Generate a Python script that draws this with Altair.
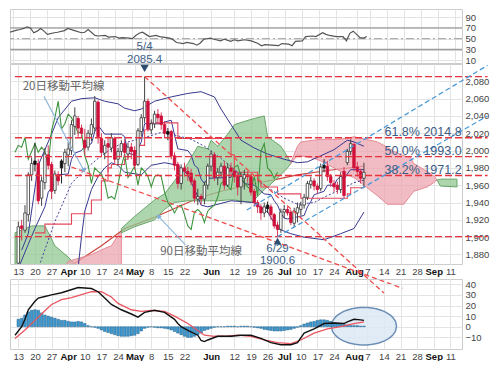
import json
import altair as alt
import numpy as np
import pandas as pd

# ---------------- calendar: weekday index, 0 = Mon 13 Mar ----------------
tick_idx = [0, 5, 10, 15, 20, 25, 30, 35, 40, 45, 50, 58, 65, 70, 75, 80, 85, 90, 95, 101, 105, 110, 115, 120, 125, 130]
tick_lab = ["13", "20", "27", "Apr", "10", "17", "24", "May", "8", "15", "22", "Jun", "12", "19", "26",
            "Jul", "10", "17", "24", "Aug", "7", "14", "21", "28", "Sep", "11"]
month_idx = [15, 35, 58, 80, 101, 125]

# ---------------- daily candles (idx 0..104) ----------------
opens = [1870, 1913, 1908, 1926, 1972, 1984, 1985, 1945, 1963, 1995,
         1984, 1954, 1972, 1980, 1985, 1995, 2000, 2028, 2037, 2026,
         2012, 2004, 2019, 2026, 2056, 2014, 1997, 2008, 2003, 2014,
         1990, 1999, 2008, 1996, 2004, 2000, 1984, 2022, 2038, 2057,
         2024, 2031, 2042, 2040, 2030, 2019, 2022, 1994, 1984, 1962,
         1980, 1976, 1974, 1965, 1944, 1947, 1944, 1960, 1982, 1995,
         1969, 1975, 1982, 1960, 1980, 1976, 1970, 1958, 1968, 1972,
         1970, 1953, 1940, 1935, 1928, 1933, 1935, 1926, 1914, 1909,
         1929, 1932, 1929, 1916, 1928, 1932, 1937, 1946, 1961, 1965,
         1959, 1956, 1980, 1982, 1970, 1962, 1960, 1955, 1976, 1986,
         1999, 2007, 1981, 1976, 1968]
highs = [1918, 1920, 1937, 1975, 1992, 2009, 1990, 1970, 2003, 2006,
         1987, 1977, 1976, 1990, 2002, 2010, 2035, 2050, 2040, 2030,
         2025, 2024, 2037, 2063, 2058, 2020, 2012, 2016, 2020, 2016,
         2003, 2012, 2013, 2009, 2009, 2005, 2026, 2042, 2085.4, 2060,
         2036, 2046, 2048, 2044, 2034, 2026, 2024, 1998, 1987, 1984,
         1986, 1981, 1979, 1968, 1956, 1950, 1964, 1985, 2000, 1998,
         1980, 1986, 1988, 1985, 1986, 1980, 1974, 1975, 1978, 1976,
         1973, 1956, 1943, 1938, 1940, 1941, 1938, 1928, 1918, 1933,
         1937, 1935, 1932, 1934, 1940, 1941, 1950, 1965, 1970, 1968,
         1962, 1985, 1990, 1988, 1973, 1966, 1964, 1975, 1981, 2002,
         2013, 2009, 1987, 1979, 1986]
lows = [1866, 1896, 1905, 1918, 1965, 1976, 1938, 1936, 1955, 1978,
        1944, 1950, 1960, 1962, 1975, 1982, 1995, 2018, 2016, 2015,
        1995, 2000, 2011, 2022, 2008, 1993, 1990, 1975, 1998, 1985,
        1983, 1994, 1992, 1991, 1990, 1978, 1982, 2016, 2032, 2022,
        2019, 2026, 2030, 2024, 2014, 2012, 1990, 1977, 1956, 1955,
        1970, 1965, 1960, 1940, 1937, 1938, 1938, 1955, 1976, 1965,
        1960, 1970, 1955, 1958, 1970, 1963, 1948, 1938, 1955, 1963,
        1948, 1935, 1928, 1920, 1923, 1928, 1920, 1910, 1900.6, 1905,
        1922, 1925, 1914, 1912, 1917, 1925, 1933, 1943, 1956, 1954,
        1950, 1953, 1975, 1965, 1958, 1952, 1950, 1951, 1944, 1983,
        1995, 1976, 1970, 1962, 1957]
closes = [1912, 1910, 1928, 1972, 1985, 1988, 1942, 1965, 1996, 1983,
          1953, 1973, 1965, 1988, 1998, 2002, 2030, 2040, 2026, 2020,
          2003, 2020, 2030, 2057, 2016, 1998, 2006, 2004, 2015, 1990,
          1999, 2008, 1998, 2004, 1999, 1983, 2023, 2038, 2057, 2025,
          2031, 2042, 2038, 2030, 2020, 2022, 1994, 1983, 1962, 1980,
          1976, 1973, 1964, 1945, 1947, 1944, 1960, 1982, 1996, 1969,
          1975, 1982, 1960, 1980, 1976, 1970, 1958, 1970, 1972, 1970,
          1952, 1940, 1935, 1928, 1935, 1937, 1926, 1913, 1909, 1929,
          1932, 1928, 1917, 1930, 1934, 1937, 1946, 1962, 1965, 1959,
          1955, 1981, 1983, 1970, 1963, 1958, 1955, 1970, 1948, 1999,
          2008, 1980, 1976, 1968, 1975]
black_days = [5, 13, 45, 75, 92]

# ---------------- indicator lines (idx, value) ----------------
bb_up_i = [1, 3, 6, 10, 12, 16, 19, 23, 26, 30, 32, 35, 37, 41, 46, 51, 55, 59, 61, 64, 67, 71, 75, 80, 84, 87, 91, 95, 99, 101, 104]
bb_up_v = [1885, 1904, 1983, 2019, 2038, 2057, 2060, 2061, 2057, 2054, 2049, 2046, 2048, 2057, 2062, 2066, 2068, 2062,
           2048, 2030, 2012, 2003, 1996, 1990, 1986, 1987, 1994, 2001, 2012, 2010, 2005]
bb_lo_i = [17, 18, 19, 20, 22, 24, 26, 28, 30, 32, 37, 40, 44, 48, 51, 54, 55, 57, 64, 71, 75, 78, 82, 86, 92, 97, 101, 104]
bb_lo_v = [1840, 1865, 1900, 1930, 1955, 1970, 1980, 1986, 1983, 1975, 1972, 1983, 1986, 1983, 1972, 1947, 1937, 1935,
           1942, 1940, 1929, 1910, 1904, 1900, 1897, 1904, 1910, 1929]
ma20_i = [4, 6, 11, 16, 20, 24, 28, 31, 38, 43, 47, 52, 56, 61, 66, 72, 76, 80, 84, 89, 93, 97, 101, 104]
ma20_v = [1850, 1864, 1918, 1962, 1978, 1991, 2002, 2008, 2015, 2021, 2018, 2013, 2005, 1991, 1975, 1965, 1955, 1945,
          1938, 1940, 1948, 1955, 1963, 1966]
ten_i = [0, 3, 5, 8, 9, 10, 11, 12, 15, 16, 17, 19, 20, 22, 23, 24, 26, 31, 32, 33, 35, 36, 37, 38, 43, 44, 46, 47, 48, 51,
         52, 53, 54, 55, 56, 57, 64, 65, 66, 67, 68, 71, 72, 73, 74, 76, 77, 78, 79, 80, 81, 86, 87, 88, 89, 92, 93, 95, 96,
         97, 98, 99, 100, 104]
ten_v = [1864, 1892, 1910, 1935, 1952, 1957, 1963, 1972, 1973, 1990, 1997, 2000, 2005, 2008, 2022, 2029, 2019, 2019, 2016,
         1997, 1995, 2002, 2010, 2031, 2031, 2033, 2035, 2018, 2002, 2000, 1995, 1983, 1980, 1967, 1962, 1968, 1969, 1977,
         1975, 1967, 1962, 1960, 1957, 1953, 1950, 1949, 1942, 1937, 1928, 1922, 1921, 1925, 1935, 1941, 1949, 1953, 1960,
         1960, 1967, 1970, 1967, 1973, 1978, 1978]
kij_i = [5, 8, 16, 22, 25, 27, 28, 32, 33, 36, 38, 40, 48, 64, 65, 72, 73, 78, 85, 99, 100, 104]
kij_v = [1905, 1915, 1927, 1943, 1965, 1980, 1984, 1990, 2000, 2006, 2024, 2032, 2014, 1995, 1975, 1965, 1958, 1950, 1945,
         1950, 1957, 1957]
ma90_i = [14, 17, 25, 32, 41, 54, 61, 71, 78, 84, 93, 104]
ma90_v = [1864, 1870, 1890, 1910, 1923, 1945, 1953, 1962, 1967, 1972, 1977, 1982]

# ---------------- ichimoku cloud segments (idx, lower, upper) ----------------
g1_i = [-1, 4, 8, 11, 15, 17]
g1_lo = [1860, 1860, 1860, 1860, 1860, 1869]
g1_hi = [1905, 1913, 1913, 1890, 1877, 1869]
p1_i = [14, 15, 22, 26, 28, 30, 31]
p1_lo = [1860, 1860, 1860, 1860, 1860, 1860, 1860]
p1_hi = [1866, 1872, 1880, 1887, 1890, 1902, 1906]
g2_i = [31, 35, 41, 44, 45, 47, 51, 54, 57, 58, 60, 63, 65, 70, 71, 74, 75, 79, 81, 82]
g2_lo = [1905, 1912, 1920, 1932, 1935, 1940, 1942, 1942, 1942, 1942, 1942, 1943, 1943, 1940, 1943, 1955, 1958, 1972, 1980, 1985]
g2_hi = [1910, 1924, 1943, 1950, 1955, 1965, 1985, 2005, 2002, 2012, 2005, 2019, 2030, 2036, 2037, 2040, 2016, 2005, 1993, 1986]
p2_i = [82, 84, 85, 89, 91, 96, 99, 101, 107, 108, 111, 113, 116, 118, 119, 123, 125, 126]
p2_lo = [1985, 1995, 1994, 1991, 1988, 1978, 1972, 1969, 1951, 1948, 1938, 1938, 1938, 1948, 1953, 1958, 1963, 1966]
p2_hi = [1986, 2005, 2010, 2012, 2013, 2013, 2014, 2016, 2011, 2010, 2004, 1999, 1994, 1992, 1985, 1976, 1971, 1966]
g3_i = [126, 127, 132]
g3_lo = [1966, 1959, 1958]
g3_hi = [1966, 1967, 1967]

# ---------------- fibonacci / trend lines ----------------
fib_levels = [2085.4, 2014.8, 1993.0, 1971.2, 1900.6]
fib_texts = ["61.8% 2014.8", "50.0% 1993.0", "38.2% 1971.2"]
fib_text_levels = [2014.8, 1993.0, 1971.2]
red_tl_name = ["L1", "L1", "L2", "L2"]
red_tl_i = [38, 110, 16, 115.6]
red_tl_v = [2085.4, 1835.5, 1981, 1841]
blue_tl_name = ["B1", "B1", "B2", "B2"]
blue_tl_i = [68.75, 141.2, 78, 141.2]
blue_tl_v = [1931.3, 2098.5, 1900.6, 2040]

# ---------------- RSI ----------------
rsi_i = [-1, 1, 2, 3, 4, 5, 6, 7, 8, 9, 10, 12, 13, 15, 16, 18, 20, 21, 22, 24, 25, 27, 28, 30, 31, 32, 34, 35, 36, 37, 38,
         39, 40, 42, 43, 45, 46, 47, 48, 50, 51, 53, 54, 55, 56, 58, 59, 61, 62, 64, 65, 66, 68, 70, 72, 73, 74, 76, 78, 79,
         81, 82, 83, 85, 86, 88, 89, 91, 92, 93, 95, 97, 98, 99, 100, 101, 102, 103, 104]
rsi_v = [62, 66, 67, 69, 72, 70, 61, 64, 69, 64, 58, 61, 62, 65, 69, 65, 61, 62, 67, 56, 55, 56, 53, 54, 51, 52, 51, 50, 56,
         60, 62, 58, 54, 56, 54, 52, 51, 48, 43, 41, 43, 41, 38, 42, 49, 51, 49, 46, 49, 45, 48, 46, 48, 46, 41, 37, 39, 38,
         37, 41, 40, 37, 45, 46, 54, 55, 54, 61, 58, 56, 54, 54, 46, 60, 64, 58, 52, 51, 54]

# ---------------- MACD ----------------
macd_i = [-1, 1, 2, 3, 5, 6, 8, 10, 13, 18, 22, 24, 26, 28, 31, 34, 36, 38, 41, 44, 47, 48, 49, 51, 54, 55, 56, 57, 60, 64,
          67, 70, 73, 76, 79, 82, 84, 86, 89, 92, 95, 98, 99, 101, 103, 104]
macd_v = [-8, 0, 7, 16, 24, 27, 28.5, 30, 32, 37, 36, 33, 27, 21, 16, 12, 9, 13.5, 15.5, 13.5, 7, 3, 0, -3.5, -8, -13, -14,
          -12.5, -9, -9, -8, -8, -11, -15, -17, -17, -15, -6, -2, 3, 3.5, 3, 4.5, 7, 6.5, 6]
sig_i = [-1, 2, 5, 8, 10, 13, 16, 22, 25, 28, 30, 34, 37, 40, 44, 47, 51, 54, 56, 59, 62, 66, 70, 74, 78, 82, 85, 89, 93, 97,
         101, 104]
sig_v = [-11, -3, 6, 15, 21, 25.5, 27.5, 33, 33, 28, 22, 16, 14.5, 15.5, 14.5, 10, 3, -3.5, -8, -9, -9, -8, -9, -12.5, -15,
         -16, -12.5, -6, -2, 0, 3, 4.5]
hist = [7, 8, 11, 14, 15.5, 16, 15.5, 13, 11, 10,
        9, 8, 7, 6, 6, 5, 4.5, 4.5, 5, 4.5,
        3, 1, 0, -0.5, -1.5, -3, -4.5, -5.5, -6.5, -7.5,
        -8.5, -9, -9, -9, -8.5, -8, -6.5, -4, -1.5, -0.5,
        0, -0.5, -1, -1, -1.5, -2, -3, -4.5, -6, -7.5,
        -9, -10, -10, -9, -7.5, -6, -3.5, -2.5, -1.5, -0.5,
        0, 0, 0, 0.5, 0.5, 0.5, 0, 0.5, 0.5, 0.5,
        0, -0.5, -1, -1.5, -2.5, -3, -3.5, -4, -4, -4,
        -3.5, -3, -2.5, -1.5, -0.5, 1, 2.5, 3.5, 4.5, 5,
        6, 6.5, 6.5, 6, 5, 4, 3.5, 2.5, 2, 1.5,
        1, 1, 1, 0.5, 0.5]
ell_cx, ell_cy, ell_rx, ell_ry = 104.0, 0.5, 9.8, 17.7

# =====================================================================
W = 452
XS = alt.Scale(domain=[-1, 132], nice=False, zero=False)
lab_expr = f"{json.dumps(tick_lab)}[indexof({json.dumps(tick_idx)}, datum.value)]"
month_test = f"indexof({json.dumps(month_idx)}, datum.value) >= 0"
xax_lab = alt.Axis(values=tick_idx, labelExpr=lab_expr,
                   labelFontWeight={"condition": {"test": month_test, "value": "bold"}, "value": "normal"},
                   labelColor={"condition": {"test": month_test, "value": "#111111"}, "value": "#444444"},
                   grid=True, gridColor="#e3e3e3", ticks=False, domain=False, labelFontSize=9.5,
                   labelPadding=2, labelOverlap=False, title=None)
xax_nolab = alt.Axis(values=tick_idx, labels=False, grid=True, gridColor="#e3e3e3", ticks=False,
                     domain=False, title=None)


def yaxis(vals):
    return alt.Axis(orient="right", values=vals, grid=True, gridColor="#e3e3e3", ticks=False, domain=False,
                    labelFontSize=9.5, labelColor="#444444", labelPadding=3, title=None)


# ---------------- main panel ----------------
YS = alt.Scale(domain=[1869, 2100], nice=False, zero=False)
yax_main = yaxis(list(range(1880, 2081, 20)))
XM = alt.X("i:Q", scale=XS, axis=xax_lab)


def YM(f):
    return alt.Y(f"{f}:Q", scale=YS, axis=yax_main)


def line_df(i, v):
    return pd.DataFrame({"i": i, "v": v})


def cloud(i, lo, hi, fill, stroke):
    df = pd.DataFrame({"i": i, "lo": lo, "hi": hi})
    return alt.Chart(df).mark_area(fill=fill, stroke=stroke, strokeWidth=1, fillOpacity=0.75, clip=True).encode(
        x=XM, y=YM("lo"), y2="hi")


def mline(i, v, color, width=1.0, dash=None, interp="linear", clip=True):
    kw = dict(color=color, strokeWidth=width, interpolate=interp, clip=clip)
    if dash:
        kw["strokeDash"] = dash
    return alt.Chart(line_df(i, v)).mark_line(**kw).encode(x=XM, y=YM("v"))


cd = pd.DataFrame({"i": range(len(closes)), "o": opens, "h": highs, "l": lows, "c": closes})
cd["kind"] = np.where(cd["c"] >= cd["o"], "up", "down")
cd.loc[cd["i"].isin(black_days), "kind"] = "black"
kinds = ["up", "down", "black"]

chik = pd.DataFrame({"i": np.arange(len(closes)) - 26, "v": closes})
chik = chik[chik["i"] >= -1]

fib_df = pd.DataFrame({"i": [-1] * len(fib_levels), "i1": [141.2] * len(fib_levels), "v": fib_levels})
fib_lab = pd.DataFrame({"i": [133.4] * 3, "v": fib_text_levels, "t": fib_texts})
red_tl = pd.DataFrame({"n": red_tl_name, "i": red_tl_i, "v": red_tl_v})
blue_tl = pd.DataFrame({"n": blue_tl_name, "i": blue_tl_i, "v": blue_tl_v})

arrows = pd.DataFrame({"n": ["a20", "a20", "a90", "a90"], "i": [7.7, 19.6, 50.3, 42.3],
                       "v": [2062.6, 1977.8, 1891, 1923.5]})
ja_text = pd.DataFrame({"i": [13.6, 55.0], "v": [2073.5, 1883], "t": ["20日移動平均線", "90日移動平均線"]})
blue_text = pd.DataFrame({"i": [38, 38, 78, 78], "v": [2119.5, 2105, 1886.5, 1873],
                          "t": ["5/4", "2085.4", "6/29", "1900.6"]})

layers = [
    mline(ma90_i, ma90_v, "#c8453c", 1.2),
    cloud(g1_i, g1_lo, g1_hi, "#93c893", "#6aa56a"),
    cloud(p1_i, p1_lo, p1_hi, "#eda6b0", "#e58a98"),
    cloud(g2_i, g2_lo, g2_hi, "#93c893", "#6aa56a"),
    cloud(p2_i, p2_lo, p2_hi, "#eda6b0", "#e58a98"),
    cloud(g3_i, g3_lo, g3_hi, "#93c893", "#6aa56a"),
    mline(bb_up_i, bb_up_v, "#38388f", 1.0),
    mline(bb_lo_i, bb_lo_v, "#38388f", 1.0),
    mline(ma20_i, ma20_v, "#3f3f9c", 1.0, dash=[2, 2]),
    mline(ten_i, ten_v, "#3a3a95", 1.0),
    mline(kij_i, kij_v, "#e4485c", 1.1, interp="step-after"),
    alt.Chart(chik).mark_line(color="#3f943f", strokeWidth=1.1, clip=True).encode(x=XM, y=YM("v")),
    alt.Chart(cd).mark_rule(strokeWidth=1, clip=True).encode(
        x=XM, y=YM("l"), y2="h",
        color=alt.Color("kind:N", scale=alt.Scale(domain=kinds, range=["#444444", "#d63a5c", "#222222"]), legend=None)),
    alt.Chart(cd).mark_bar(width=2.5, strokeWidth=0.8, clip=True).encode(
        x=XM, y=YM("o"), y2="c",
        fill=alt.Fill("kind:N", scale=alt.Scale(domain=kinds, range=["#ffffff", "#d0103a", "#111111"]), legend=None),
        stroke=alt.Stroke("kind:N", scale=alt.Scale(domain=kinds, range=["#333333", "#d0103a", "#111111"]),
                          legend=None)),
    alt.Chart(fib_df).mark_rule(color="#e8333f", strokeWidth=1.4, strokeDash=[7, 3]).encode(
        x=XM, x2="i1:Q", y=YM("v")),
    alt.Chart(red_tl).mark_line(color="#ee4b4b", strokeWidth=1.3, strokeDash=[5, 3]).encode(
        x=XM, y=YM("v"), detail="n:N"),
    alt.Chart(blue_tl).mark_line(color="#4a9ad8", strokeWidth=1.3, strokeDash=[5, 3]).encode(
        x=XM, y=YM("v"), detail="n:N"),
    alt.Chart(arrows).mark_line(color="#8fb6dc", strokeWidth=1.1).encode(x=XM, y=YM("v"), detail="n:N"),
    alt.Chart(pd.DataFrame({"i": [19.6], "v": [1977.8]})).mark_point(
        shape="triangle", angle=151, size=28, filled=True, color="#7fb0de", opacity=1).encode(x=XM, y=YM("v")),
    alt.Chart(pd.DataFrame({"i": [42.3], "v": [1923.5]})).mark_point(
        shape="triangle", angle=316, size=28, filled=True, color="#7fb0de", opacity=1).encode(x=XM, y=YM("v")),
    alt.Chart(pd.DataFrame({"i": [38], "v": [2095]})).mark_point(
        shape="triangle-down", size=70, filled=True, color="#2b4d70", opacity=1).encode(x=XM, y=YM("v")),
    alt.Chart(pd.DataFrame({"i": [78], "v": [1895.5]})).mark_point(
        shape="triangle-up", size=60, filled=True, color="#2b4d70", opacity=1).encode(x=XM, y=YM("v")),
    alt.Chart(ja_text).mark_text(font="Noto Sans CJK JP", fontSize=11.5, color="#666666").encode(
        x=XM, y=YM("v"), text="t:N"),
    alt.Chart(blue_text).mark_text(font="Liberation Sans", fontSize=11.5, color="#3d6088").encode(
        x=XM, y=YM("v"), text="t:N"),
    alt.Chart(fib_lab).mark_text(font="Liberation Sans", fontSize=12.5, color="#3b5b85", align="right",
                                 baseline="alphabetic", dy=-2).encode(x=XM, y=YM("v"), text="t:N"),
]
main = alt.layer(*layers).properties(width=W, height=200)

# ---------------- RSI panel ----------------
RS = alt.Scale(domain=[5, 105], nice=False, zero=False)
XR = alt.X("i:Q", scale=XS, axis=xax_nolab)
yax_rsi = yaxis([10, 30, 50, 70, 90])
rsi_df = pd.DataFrame({"i": rsi_i, "v": rsi_v})
rsi = alt.layer(
    alt.Chart(pd.DataFrame({"v": [70, 30]})).mark_rule(color="#9c9c9c", strokeWidth=1.3).encode(
        y=alt.Y("v:Q", scale=RS, axis=yax_rsi)),
    alt.Chart(pd.DataFrame({"v": [50]})).mark_rule(color="#9c9c9c", strokeWidth=1, strokeDash=[8, 3, 2, 3]).encode(
        y=alt.Y("v:Q", scale=RS, axis=yax_rsi)),
    alt.Chart(rsi_df).mark_line(color="#555555", strokeWidth=1.2, clip=True).encode(
        x=XR, y=alt.Y("v:Q", scale=RS, axis=yax_rsi)),
).properties(width=W, height=54)

# ---------------- MACD panel ----------------
MS = alt.Scale(domain=[-21, 45], nice=False, zero=False)
yax_macd = yaxis([-10, 0, 10, 20, 30, 40])
XD = alt.X("i:Q", scale=XS, axis=xax_lab)
t = np.linspace(-1, 1, 81)
ell = pd.DataFrame({"i": ell_cx + ell_rx * t,
                    "lo": ell_cy - ell_ry * np.sqrt(1 - t ** 2),
                    "hi": ell_cy + ell_ry * np.sqrt(1 - t ** 2)})
hist_df = pd.DataFrame({"i": range(len(hist)), "v": hist})
macd = alt.layer(
    alt.Chart(ell).mark_area(fill="#dde9f6", fillOpacity=0.85, stroke="#6b8fb5", strokeWidth=1.5).encode(
        x=XD, y=alt.Y("lo:Q", scale=MS, axis=yax_macd), y2="hi"),
    alt.Chart(hist_df).mark_bar(width=2.6, fill="#3d9ad1", stroke="#1f5f8a", strokeWidth=0.5).encode(
        x=XD, y=alt.Y("v:Q", scale=MS, axis=yax_macd)),
    alt.Chart(pd.DataFrame({"i": sig_i, "v": sig_v})).mark_line(color="#ea5560", strokeWidth=1.3, clip=True).encode(
        x=XD, y=alt.Y("v:Q", scale=MS, axis=yax_macd)),
    alt.Chart(pd.DataFrame({"i": macd_i, "v": macd_v})).mark_line(color="#111111", strokeWidth=1.4,
                                                                   clip=True).encode(
        x=XD, y=alt.Y("v:Q", scale=MS, axis=yax_macd)),
).properties(width=W, height=70)

lower = alt.vconcat(main, macd, spacing=15, bounds="flush")
chart = alt.vconcat(rsi, lower, spacing=1, bounds="flush").properties(
    padding={"left": 0, "top": 0, "right": 0, "bottom": 0}, background="white"
).configure_view(stroke="#cccccc").configure_axis(labelFont="Liberation Sans")

chart.save("out.html", embed_options={"renderer": "svg", "actions": False})
